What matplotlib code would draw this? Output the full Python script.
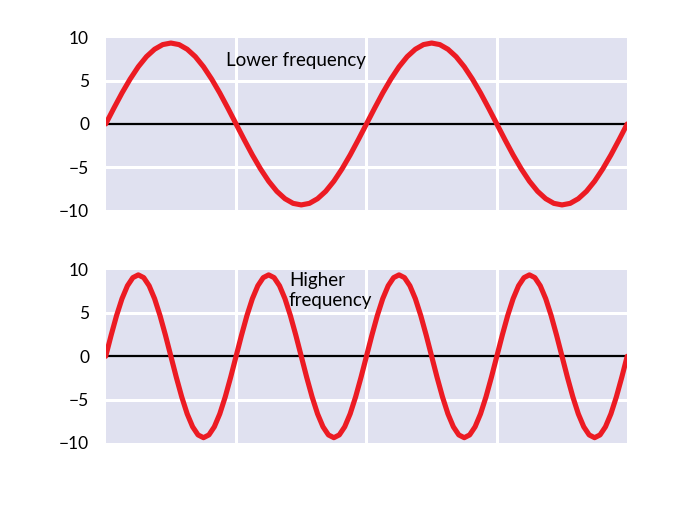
import numpy as np
import matplotlib
matplotlib.use('Agg')
import matplotlib.pyplot as plt

plt.rcParams['font.family'] = ['Lato', 'DejaVu Sans']

# top panel: two slow cycles, read every 1/16 of a half cycle
x_low = np.arange(65) / 16
half_low = [0, 1.83, 3.60, 5.22, 6.65, 7.82, 8.68, 9.22, 9.4, 9.22, 8.68, 7.82, 6.65, 5.22, 3.60, 1.83]
y_low = half_low + [-v for v in half_low] + half_low + [-v for v in half_low] + [0]

# bottom panel: four fast cycles, read every 1/12 of a half cycle
x_high = np.arange(97) / 24
half_high = [0, 2.43, 4.70, 6.65, 8.14, 9.08, 9.4, 9.08, 8.14, 6.65, 4.70, 2.43]
y_high = (half_high + [-v for v in half_high]) * 4 + [0]

yticks = [-10, -5, 0, 5, 10]
ytick_labels = ['\u221210', '\u22125', '0', '5', '10']

bg = '#e0e1f0'
red = '#ec1b23'

fig = plt.figure(figsize=(7, 5.05), dpi=100)
ax1 = fig.add_axes([0.151, 0.584, 0.745, 0.341])
ax2 = fig.add_axes([0.151, 0.123, 0.745, 0.343])

for ax, x, y in [(ax1, x_low, y_low), (ax2, x_high, y_high)]:
    ax.set_facecolor(bg)
    ax.set_xlim(0, 4)
    ax.set_ylim(-10, 10)
    for v in [1, 2, 3]:
        ax.axvline(v, color='white', lw=2.2, zorder=1)
    for v in [-5, 5]:
        ax.axhline(v, color='white', lw=2.2, zorder=1)
    ax.axhline(0, color='black', lw=1.6, zorder=2)
    ax.plot(x, y, color=red, lw=3.7, zorder=3, solid_capstyle='round')
    ax.set_xticks([])
    ax.set_yticks(yticks)
    ax.set_yticklabels(ytick_labels)
    ax.tick_params(axis='y', length=0, pad=12, labelsize=12.5)
    for s in ax.spines.values():
        s.set_visible(False)

ax1.text(0.92, 7.4, 'Lower frequency', fontsize=13.5, va='center', ha='left', zorder=4)
ax2.text(1.405, 9.7, 'Higher\nfrequency', fontsize=13.5, va='top', ha='left',
         linespacing=1.2, zorder=4)

fig.savefig('out.png', dpi=100)
